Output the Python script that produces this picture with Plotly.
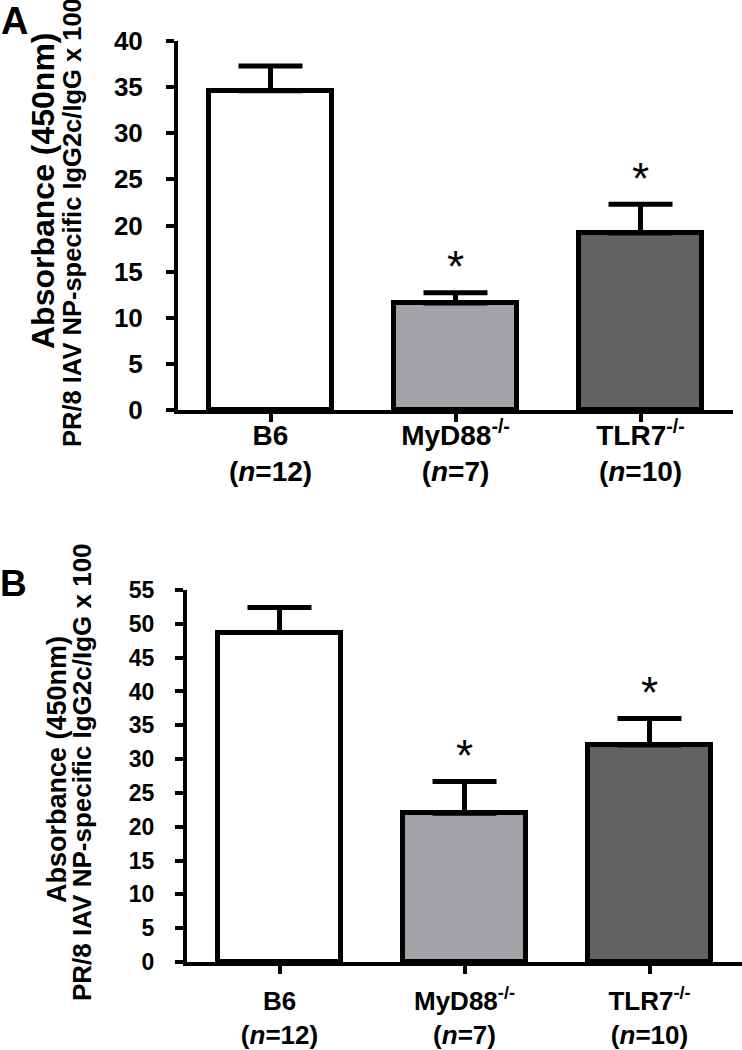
import plotly.graph_objects as go

# ---------------- data ----------------
groups = ["B6", "MyD88<sup>-/-</sup>", "TLR7<sup>-/-</sup>"]
n_mice = [12, 7, 10]
bar_colors = ["#ffffff", "#a3a2a7", "#626262"]

mean_A = [34.6, 11.6, 19.2]
sem_A = [2.7, 1.1, 3.1]
sig_A = [False, True, True]

mean_B = [48.7, 22.0, 32.1]
sem_B = [3.7, 4.7, 3.9]
sig_B = [False, True, True]

ytick_A = [0, 5, 10, 15, 20, 25, 30, 35, 40]
ytick_B = [0, 5, 10, 15, 20, 25, 30, 35, 40, 45, 50, 55]

title_line1 = "Absorbance (450nm)"
title_line2 = "PR/8 IAV NP-specific IgG2c/IgG x 100"

# ---------------- layout helpers ----------------
W, H = 742, 1050
FONT = "Liberation Sans, Arial, sans-serif"


def px(x):
    return x / W


def py(y):
    return 1 - y / H


xpos = list(range(len(groups)))
ticktext = [f"{g}<br>(<i>n</i>={n})" for g, n in zip(groups, n_mice)]

fig = go.Figure()


def add_panel(means, sems, xa, ya):
    fig.add_trace(go.Bar(
        x=xpos, y=means, xaxis=xa, yaxis=ya,
        width=0.66,
        marker=dict(color=bar_colors, line=dict(color="black", width=5)),
        error_y=dict(type="data", symmetric=False, array=sems,
                     arrayminus=[0] * len(sems), color="black",
                     thickness=5, width=32),
        showlegend=False, hoverinfo="skip",
    ))


add_panel(mean_A, sem_A, "x", "y")
add_panel(mean_B, sem_B, "x2", "y2")

annotations = []


def add_stars(means, sems, sig, xref, yref):
    for i, (m, s, g) in enumerate(zip(means, sems, sig)):
        if g:
            annotations.append(dict(
                x=xpos[i], y=m + s, xref=xref, yref=yref, text="*",
                showarrow=False, xanchor="center", yanchor="middle",
                yshift=26,
                font=dict(family=FONT, size=44, color="black"),
            ))


add_stars(mean_A, sem_A, sig_A, "x", "y")
add_stars(mean_B, sem_B, sig_B, "x2", "y2")

# panel letters
annotations.append(dict(x=px(14), y=py(21), xref="paper", yref="paper", text="A",
                        showarrow=False, xanchor="center", yanchor="middle",
                        font=dict(family=FONT, size=38, color="black", weight="bold")))
annotations.append(dict(x=px(13), y=py(583), xref="paper", yref="paper", text="B",
                        showarrow=False, xanchor="center", yanchor="middle",
                        font=dict(family=FONT, size=37, color="black", weight="bold")))

# y-axis titles (two lines each)
for (xc, yc, txt, sz) in [
    (43, 191, title_line1, 32),
    (72, 223, title_line2, 25.5),
    (57, 770, title_line1, 27),
    (82, 772, title_line2, 26),
]:
    annotations.append(dict(x=px(xc), y=py(yc), xref="paper", yref="paper", text=txt,
                            textangle=-90, showarrow=False,
                            xanchor="center", yanchor="middle",
                            font=dict(family=FONT, size=sz, color="black", weight="bold")))

axis_common = dict(showline=True, linecolor="black", linewidth=4, showgrid=False,
                   zeroline=False, ticks="outside", ticklen=8, tickwidth=4,
                   tickcolor="black", automargin=False)

fig.update_layout(
    width=W, height=H,
    margin=dict(l=0, r=0, t=0, b=0, pad=0),
    paper_bgcolor="white", plot_bgcolor="white",
    bargap=0,
    annotations=annotations,
    xaxis=dict(domain=[px(178), px(733)], anchor="y", range=[-0.5, 2.5],
               tickvals=xpos, ticktext=ticktext, ticklabelstandoff=-11,
               tickfont=dict(family=FONT, size=28, color="black", weight="bold"),
               **axis_common),
    yaxis=dict(domain=[py(410), py(41)], anchor="x", range=[0, 40],
               tickvals=ytick_A, ticklabelstandoff=18,
               tickfont=dict(family=FONT, size=26, color="black", weight="bold"),
               **axis_common),
    xaxis2=dict(domain=[px(187), px(742)], anchor="y2", range=[-0.5, 2.5],
                tickvals=xpos, ticktext=ticktext, ticklabelstandoff=5,
                tickfont=dict(family=FONT, size=26, color="black", weight="bold"),
                **axis_common),
    yaxis2=dict(domain=[py(962), py(590)], anchor="x2", range=[0, 55],
                tickvals=ytick_B, ticklabelstandoff=16,
                tickfont=dict(family=FONT, size=23, color="black", weight="bold"),
                **axis_common),
)

fig.write_html("out.html", config={"displayModeBar": False},
               post_script="document.body.style.margin='0';")
